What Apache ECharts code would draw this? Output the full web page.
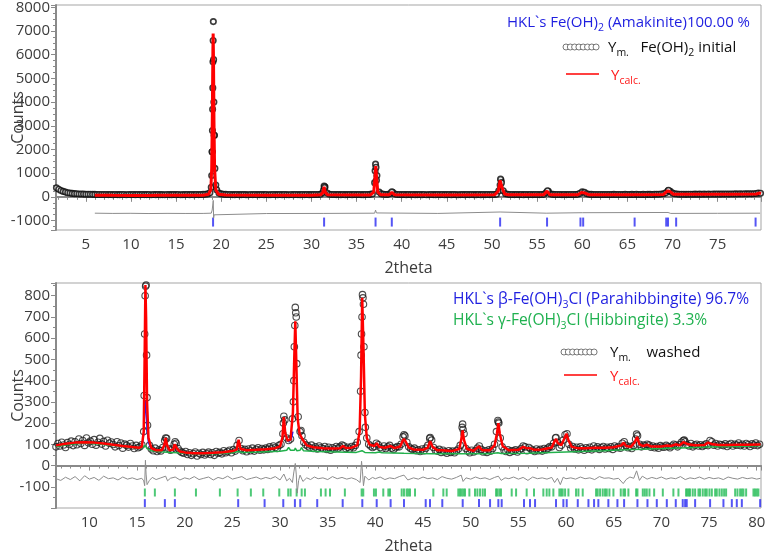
<!DOCTYPE html>
<html>
<head>
<meta charset="utf-8">
<script src="https://cdn.jsdelivr.net/npm/echarts@6/dist/echarts.min.js"></script>
<style>
  html, body { margin: 0; padding: 0; background: #fff; }
  #chart { width: 767px; height: 554px; }
</style>
</head>
<body>
<div id="chart"></div>
<script>
// ---- top panel: Fe(OH)2 initial ----
// measured counts on a regular 2theta grid
const topObsStart = 1.75
const topObsStep = 0.25
const topObsY = [
  380, 320, 270, 230, 200, 175, 160, 145, 135, 128, 122, 118, 115, 112, 110, 108, 106, 104, 102, 100,
  98, 96, 100, 94, 97, 92, 99, 95, 93, 98, 96, 91, 97, 94, 99, 93, 96, 92, 98, 95,
  94, 97, 91, 96, 93, 98, 92, 95, 90, 97, 94, 92, 96, 93, 98, 91, 95, 94, 97, 92,
  96, 93, 98, 95, 100, 104, 110, 125, 170, 1900, 2600, 300, 160, 125, 110, 104, 100, 97, 95, 93,
  96, 92, 95, 98, 93, 91, 97, 94, 96, 92, 95, 98, 93, 96, 91, 94, 97, 95, 92, 96,
  93, 97, 94, 91, 96, 93, 98, 95, 92, 96, 94, 97, 93, 95, 98, 96, 100, 110, 180, 420,
  160, 110, 100, 96, 94, 98, 93, 96, 92, 95, 97, 93, 96, 94, 98, 95, 93, 97, 100, 106,
  125, 600, 900, 200, 125, 108, 102, 105, 140, 190, 120, 102, 97, 95, 98, 93, 96, 94, 97, 92,
  95, 98, 93, 96, 91, 94, 97, 95, 92, 96, 94, 98, 93, 95, 97, 92, 96, 94, 91, 95,
  97, 93, 96, 94, 98, 95, 92, 96, 93, 97, 95, 98, 94, 97, 100, 110, 250, 700, 260, 130,
  108, 100, 98, 95, 97, 94, 96, 93, 98, 95, 97, 94, 96, 99, 95, 98, 105, 180, 230, 120,
  104, 98, 96, 99, 95, 97, 94, 98, 96, 99, 102, 110, 150, 210, 190, 130, 110, 104, 100, 98,
  100, 97, 102, 99, 96, 101, 98, 103, 100, 97, 102, 99, 104, 101, 98, 103, 100, 105, 102, 99,
  104, 101, 106, 103, 100, 105, 108, 112, 118, 130, 170, 260, 230, 160, 130, 118, 112, 108, 110, 106,
  109, 112, 108, 114, 110, 113, 109, 115, 111, 116, 112, 118, 114, 117, 113, 119, 115, 120, 116, 122,
  118, 124, 120, 126, 122, 128, 124, 130, 126, 132, 140, 160, 150
]
// extra measured points on the steep peak flanks
const topObsPeaks = [
  [18.9, 400], [18.95, 900], [19.0, 1900], [19.03, 2800], [19.05, 3700], [19.07, 4600],
  [19.09, 5700], [19.11, 6600], [19.13, 7400], [19.16, 5800], [19.19, 4000], [19.22, 2600],
  [19.3, 1200], [19.4, 500], [31.35, 300], [31.4, 460], [31.45, 400],
  [37.05, 1100], [37.1, 1380], [37.15, 1250], [37.2, 700], [38.9, 210],
  [50.9, 500], [50.95, 750], [51.05, 600], [56.15, 260], [69.55, 280]
]
const topCalc = [
  [6.0, 65], [8, 62], [10, 60], [12, 60], [13, 62], [16, 62], [18, 70], [18.6, 110], [18.85, 300],
  [18.95, 1200], [19.02, 3500], [19.08, 6200], [19.11, 6900], [19.15, 5800], [19.2, 3200],
  [19.27, 1200], [19.4, 300], [19.7, 110], [20.5, 75], [25, 65], [30, 68], [31.0, 85],
  [31.25, 180], [31.4, 420], [31.55, 180], [31.8, 85], [36.5, 75], [36.9, 200], [37.05, 900],
  [37.12, 1300], [37.2, 900], [37.35, 200], [37.7, 85], [38.6, 85], [38.9, 190], [39.2, 90],
  [45, 75], [50.3, 85], [50.7, 250], [50.9, 700], [51.1, 400], [51.4, 120], [51.8, 85],
  [55.7, 85], [56.1, 240], [56.4, 90], [59.5, 90], [59.9, 180], [60.1, 200], [60.3, 160],
  [60.7, 90], [65, 90], [69.0, 100], [69.45, 250], [69.7, 230], [70.1, 110], [75, 105],
  [76.5, 105], [79.3, 120], [79.6, 160], [79.8, 140]
]
const topDiff = [
  [6.0, -690], [8, -700], [10, -695], [12, -705], [14, -698], [16, -702], [18, -700],
  [18.9, -690], [19.0, -560], [19.08, -300], [19.12, -150], [19.16, -900], [19.22, -760],
  [19.4, -700], [25, -705], [31.3, -700], [31.4, -620], [31.5, -700], [37.0, -690],
  [37.1, -560], [37.2, -680], [37.3, -710], [44, -700], [50.9, -640], [51.05, -700],
  [56, -690], [60, -670], [60.2, -700], [69.5, -660], [69.8, -700], [75, -695], [79.7, -690]
]
const topHkl = [19.1, 31.4, 37.1, 38.9, 50.9, 56.1, 59.8, 60.1, 65.8, 69.3, 69.5, 70.4, 79.2]

// ---- bottom panel: washed ----
const botObsStart = 6.5
const botObsStep = 0.2
const botObsY = [
  88, 104, 92, 110, 97, 85, 108, 99, 115, 94,
  112, 98, 125, 104, 118, 95, 130, 107, 115, 100,
  122, 96, 110, 128, 101, 114, 92, 119, 105, 111,
  99, 88, 112, 94, 106, 82, 101, 95, 87, 104,
  92, 80, 95, 84, 88, 98, 160, 845, 190, 95,
  78, 70, 82, 66, 74, 69, 85, 118, 128, 80,
  72, 78, 100, 105, 80, 68, 62, 58, 66, 52,
  60, 48, 56, 64, 45, 58, 52, 62, 50, 57,
  63, 52, 60, 48, 66, 58, 62, 55, 70, 60,
  66, 72, 60, 75, 68, 95, 118, 80, 70, 76,
  65, 78, 70, 82, 68, 76, 84, 72, 80, 74,
  82, 76, 88, 79, 92, 85, 80, 95, 100, 150,
  215, 130, 118, 125, 220, 560, 700, 230, 160, 140,
  110, 98, 92, 85, 96, 80, 88, 78, 92, 84,
  80, 90, 76, 86, 72, 84, 78, 90, 82, 88,
  96, 92, 80, 86, 78, 90, 84, 95, 110, 160,
  520, 790, 250, 130, 100, 92, 85, 90, 105, 98,
  85, 78, 92, 80, 88, 95, 82, 76, 84, 90,
  88, 100, 135, 140, 110, 88, 80, 76, 82, 70,
  74, 66, 78, 70, 82, 95, 128, 120, 85, 72,
  68, 76, 62, 72, 65, 58, 70, 62, 68, 60,
  70, 78, 95, 180, 150, 80, 68, 60, 72, 64,
  70, 82, 92, 76, 64, 70, 62, 74, 68, 80,
  100, 160, 205, 130, 88, 72, 66, 74, 62, 70,
  68, 74, 64, 72, 80, 92, 88, 70, 85, 78,
  72, 66, 78, 70, 76, 68, 80, 74, 82, 90,
  88, 105, 130, 110, 85, 96, 120, 145, 150, 100,
  82, 90, 78, 86, 74, 88, 80, 72, 84, 78,
  86, 74, 92, 80, 88, 76, 84, 90, 78, 86,
  80, 88, 76, 92, 84, 90, 82, 105, 112, 95,
  84, 90, 80, 95, 125, 140, 100, 88, 96, 92,
  100, 96, 86, 92, 84, 90, 82, 94, 88, 86,
  95, 90, 84, 92, 100, 96, 88, 98, 110, 118,
  112, 98, 92, 104, 88, 96, 100, 92, 98, 90,
  96, 102, 94, 118, 112, 96, 104, 92, 100, 98,
  94, 102, 90, 98, 104, 92, 100, 96, 106, 94,
  100, 92, 104, 98, 90, 102, 96, 106, 94, 100
]
const botObsPeaks = [
  [15.75, 330], [15.8, 620], [15.85, 800], [15.95, 850], [16.0, 520], [16.05, 320],
  [18.0, 130], [19.0, 112], [30.35, 200], [30.4, 232], [31.4, 300], [31.45, 400],
  [31.55, 660], [31.6, 745], [31.65, 720], [31.75, 480], [32.2, 165],
  [38.45, 350], [38.55, 620], [38.6, 700], [38.65, 805], [38.75, 760], [38.8, 560], [38.95, 180],
  [43.0, 145], [45.75, 132], [49.15, 195], [49.2, 170], [52.85, 212], [52.95, 200],
  [58.95, 132], [67.4, 148], [72.4, 120]
]
const botCalc = [
  [6.5, 95], [7.5, 103], [8.5, 108], [9.5, 110], [10.5, 108], [11.5, 104], [12.5, 98],
  [13.5, 92], [14.5, 87], [15.2, 84], [15.5, 88], [15.7, 160], [15.8, 520], [15.88, 850],
  [15.95, 700], [16.05, 300], [16.2, 130], [16.5, 82], [17, 72], [17.6, 72], [17.85, 95],
  [18.0, 130], [18.15, 95], [18.4, 72], [18.8, 75], [18.95, 100], [19.05, 105], [19.2, 80],
  [19.5, 66], [20, 62], [21, 58], [22, 58], [23, 60], [24, 63], [25, 68], [25.45, 75],
  [25.65, 122], [25.85, 78], [26.5, 72], [27.5, 74], [28.5, 77], [29.5, 82], [30.0, 90],
  [30.25, 130], [30.4, 228], [30.55, 150], [30.8, 118], [31.1, 122], [31.35, 250],
  [31.5, 520], [31.6, 680], [31.7, 500], [31.85, 220], [32.05, 150], [32.2, 155],
  [32.4, 120], [32.8, 95], [33.5, 86], [34.5, 82], [35.5, 80], [36.3, 82], [36.6, 92],
  [36.9, 83], [37.5, 84], [38.1, 95], [38.35, 160], [38.5, 420], [38.62, 790], [38.75, 560],
  [38.9, 240], [39.1, 130], [39.4, 98], [39.9, 92], [40.15, 105], [40.4, 88], [41, 84],
  [41.6, 92], [42, 82], [42.6, 90], [42.85, 115], [43.0, 125], [43.15, 115], [43.5, 85],
  [44, 76], [45, 74], [45.5, 85], [45.75, 115], [46.0, 88], [46.5, 72], [47, 72], [48, 68],
  [48.8, 78], [49.0, 120], [49.15, 165], [49.3, 120], [49.6, 78], [50.3, 70], [50.85, 90],
  [51.2, 72], [52, 72], [52.5, 95], [52.75, 150], [52.9, 200], [53.05, 150], [53.35, 92],
  [54, 72], [55, 74], [55.5, 88], [55.65, 95], [55.85, 82], [56.2, 82], [56.6, 75],
  [57.5, 76], [58.5, 85], [58.8, 115], [58.95, 125], [59.15, 105], [59.5, 96], [59.85, 130],
  [60.05, 150], [60.25, 120], [60.6, 88], [61.2, 82], [61.4, 86], [62, 82], [63, 84],
  [64, 84], [65, 86], [65.8, 95], [66.05, 108], [66.3, 92], [66.8, 88], [67.2, 110],
  [67.45, 135], [67.7, 100], [68.1, 92], [68.5, 98], [68.9, 90], [70, 90], [70.6, 94],
  [71, 92], [71.5, 100], [71.9, 95], [72.3, 110], [72.5, 118], [72.8, 100], [73.5, 96],
  [74.5, 97], [74.9, 108], [75.1, 115], [75.4, 100], [76, 97], [77, 97], [78, 98], [79, 98],
  [80.4, 99]
]
// beta phase contribution where it shows from under the total fit
const botBetaSeg1 = [
  [15.5, 86], [15.7, 150], [15.8, 260], [15.88, 305], [15.95, 250], [16.05, 170],
  [16.2, 110], [16.4, 85], [16.7, 76]
]
const botBetaSeg2 = [[30.9, 112], [31.05, 118], [31.2, 128], [31.35, 160]]
// gamma phase + background
const botGamma = [
  [6.5, 90], [8, 100], [9.5, 106], [11, 102], [12.5, 95], [14, 88], [15.2, 82], [15.6, 85],
  [15.85, 95], [16.05, 80], [16.5, 70], [17.5, 65], [18.5, 62], [19.5, 60], [21, 56],
  [23, 56], [25, 60], [25.6, 66], [26, 62], [28, 64], [30, 67], [30.7, 72], [30.9, 85],
  [31.1, 72], [31.5, 72], [31.6, 82], [31.75, 70], [32.1, 72], [32.25, 85], [32.45, 70],
  [34, 66], [36, 64], [38, 62], [38.6, 70], [38.9, 62], [40, 60], [40.4, 64], [40.7, 60],
  [43, 58], [46, 56], [49, 55], [49.15, 62], [49.4, 55], [52, 56], [52.85, 60], [53.2, 57],
  [56, 58], [60, 64], [64, 70], [66, 74], [68, 77], [70, 80], [72, 83], [74, 86], [76, 88],
  [78, 90], [80.4, 93]
]
const botDiff = [
  [6.5, -62], [7, -70], [7.5, -55], [8, -66], [8.5, -52], [9, -72], [9.5, -48], [10, -64],
  [10.5, -56], [11, -70], [11.5, -50], [12, -62], [12.5, -58], [13, -68], [13.5, -54],
  [14, -64], [14.5, -58], [15, -66], [15.5, -60], [15.7, -72], [15.8, -95], [15.88, 25],
  [15.95, -40], [16.05, -90], [16.3, -70], [16.6, -56], [17, -66], [17.5, -58], [18, -50],
  [18.2, -72], [18.5, -60], [19, -54], [19.5, -68], [20, -58], [20.5, -64], [21, -52],
  [21.5, -66], [22, -60], [22.5, -54], [23, -68], [23.5, -56], [24, -62], [24.5, -50],
  [25, -64], [25.5, -58], [26, -52], [26.5, -66], [27, -60], [27.5, -54], [28, -64],
  [28.5, -56], [29, -62], [29.5, -52], [30, -68], [30.4, -40], [30.7, -72], [31, -60],
  [31.3, -80], [31.45, -30], [31.6, 10], [31.7, -40], [31.8, -130], [31.95, -70],
  [32.1, -45], [32.4, -75], [32.8, -58], [33.2, -66], [33.6, -54], [34, -62], [34.5, -58],
  [35, -66], [35.5, -52], [36, -62], [36.5, -56], [37, -64], [37.5, -58], [38, -66],
  [38.4, -80], [38.55, 20], [38.65, -30], [38.75, -95], [38.9, -50], [39.3, -68],
  [39.7, -56], [40, -62], [40.5, -54], [41, -66], [41.5, -58], [42, -62], [42.5, -52],
  [43, -45], [43.4, -68], [44, -58], [44.5, -64], [45, -54], [45.5, -62], [46, -58],
  [46.5, -66], [47, -52], [47.5, -60], [48, -64], [48.5, -56], [49, -45], [49.2, -75],
  [49.5, -58], [50, -64], [50.5, -54], [51, -62], [51.5, -58], [52, -66], [52.5, -56],
  [52.9, -50], [53.2, -70], [53.6, -58], [54, -62], [54.5, -54], [55, -64], [55.5, -56],
  [56, -70], [56.5, -54], [57, -62], [57.5, -58], [58, -64], [58.5, -56], [58.8, -80],
  [59.1, -60], [59.4, -90], [59.7, -55], [60, -62], [60.5, -58], [61, -64], [61.5, -54],
  [62, -62], [62.5, -58], [63, -66], [63.5, -52], [64, -60], [64.5, -58], [65, -64],
  [65.5, -60], [66, -85], [66.3, -66], [66.7, -54], [67.1, -60], [67.4, -25], [67.7, -70],
  [68, -50], [68.5, -64], [69, -56], [69.5, -62], [70, -54], [70.5, -64], [71, -58],
  [71.5, -62], [72, -52], [72.5, -66], [73, -58], [73.5, -62], [74, -54], [74.5, -64],
  [75, -56], [75.5, -62], [76, -58], [76.5, -66], [77, -54], [77.5, -60], [78, -64],
  [78.5, -56], [79, -62], [79.5, -58], [80, -64], [80.4, -60]
]
const botHklGamma = [
  15.82, 16.87, 18.97, 21.18, 23.69, 25.55, 26.94, 28.24, 29.92, 30.86, 31.11, 31.74, 32.27,
  32.61, 34.29, 34.78, 35.24, 36.8, 38.56, 38.73, 39.85, 40.06, 40.83, 41.36, 41.53, 42.76,
  43.0, 43.28, 43.45, 43.63, 44.16, 46.08, 47.13, 47.48, 48.70, 48.88, 49.05, 49.23, 49.40,
  49.86, 50.45, 50.70, 50.98, 51.26, 51.50, 52.66, 52.80, 53.01, 53.18, 54.30, 54.76, 55.87,
  56.64, 57.62, 57.97, 58.25, 58.67, 59.30, 59.48, 59.65, 59.90, 60.25, 61.05, 61.30, 61.75,
  63.15, 63.32, 63.57, 63.85, 64.09, 64.27, 64.55, 64.97, 65.74, 66.02, 66.19, 66.54, 67.35,
  67.49, 68.05, 68.26, 68.47, 68.75, 69.24, 70.15, 71.26, 71.79, 72.59, 72.73, 72.87, 73.01,
  73.29, 73.54, 73.89, 74.06, 74.34, 74.59, 74.76, 75.04, 75.29, 75.64, 75.81, 76.09, 76.34,
  76.58, 76.79, 77.74, 77.98, 78.26, 78.44, 78.61, 78.89, 79.66, 79.83, 80.01, 80.18
]
const botHklBeta = [
  15.82, 17.92, 18.97, 25.61, 28.38, 30.34, 31.56, 32.12, 33.9, 36.57, 38.63, 40.14, 41.6,
  43.0, 45.28, 45.73, 47.02, 49.16, 50.87, 52.03, 52.9, 53.25, 55.59, 56.22, 56.75, 58.95,
  59.72, 60.07, 61.23, 62.35, 62.94, 63.39, 64.44, 65.39, 66.09, 67.49, 68.54, 69.52, 70.57,
  71.51, 72.24, 72.49, 72.66, 73.54, 75.11, 76.51, 77.39, 77.91, 78.44, 80.36
]

// rows where the reflection markers sit
const topHklLevel = -1065
const gammaLevel = -127
const betaLevel = -177

const gridPairs = (start, step, ys) => ys.map((y, i) => [+(start + i * step).toFixed(2), y])

const axisGray = '#8a8a8a'
const labelGray = '#3c3c3c'
const font = 'Open Sans'

function xAxis(gridIndex, min, max, splitNumber) {
  return {
    type: 'value', gridIndex, min, max, splitNumber,
    name: '2theta', nameLocation: 'middle', nameGap: 30, nameMoveOverlap: false,
    nameTextStyle: { fontSize: 16, color: labelGray, fontFamily: font },
    axisLine: { lineStyle: { color: axisGray, width: 2 } },
    axisTick: { length: 5, lineStyle: { color: axisGray } },
    minorTick: { show: true, splitNumber: 5, length: 3, lineStyle: { color: axisGray } },
    axisLabel: { fontSize: 15, color: labelGray, fontFamily: font, margin: 7, showMinLabel: false, showMaxLabel: false },
    splitLine: { show: false }
  }
}
function yAxis(gridIndex, min, max, splitNumber, minorSplit) {
  return {
    type: 'value', gridIndex, min, max, splitNumber,
    name: 'Counts', nameLocation: 'middle', nameGap: 30, nameMoveOverlap: false,
    nameTextStyle: { fontSize: 16, color: labelGray, fontFamily: font },
    axisLine: { show: true, lineStyle: { color: axisGray, width: 2 } },
    axisTick: { show: true, length: 5, lineStyle: { color: axisGray } },
    minorTick: { show: true, splitNumber: minorSplit, length: 3, lineStyle: { color: axisGray } },
    axisLabel: {
      fontSize: 15, color: labelGray, fontFamily: font, margin: 6,
      showMinLabel: false, showMaxLabel: false, formatter: v => String(v)
    },
    splitLine: { show: false }
  }
}

const sub = { fontSize: 10.5, verticalAlign: 'bottom', fontFamily: font }
function label(x, y, text, color, align, size) {
  return {
    type: 'text', x, y, z: 100,
    style: {
      text, fill: color, fontSize: size || 15, fontFamily: font, lineHeight: 22,
      align: align || 'left', verticalAlign: 'middle',
      rich: { s: Object.assign({ fill: color }, sub) }
    }
  }
}
function circlesIcon(x0, y) {
  const kids = []
  for (let i = 0; i < 8; i++) {
    kids.push({ type: 'circle', shape: { cx: x0 + i * 4.3, cy: y, r: 3 }, style: { fill: '#fff', stroke: '#555', lineWidth: 0.8 } })
  }
  return { type: 'group', children: kids, z: 100 }
}
function redLine(x0, x1, y) {
  return { type: 'line', shape: { x1: x0, y1: y, x2: x1, y2: y }, style: { stroke: '#ff0000', lineWidth: 1.5 }, z: 100 }
}

const chart = echarts.init(document.getElementById('chart'))
chart.setOption({
  animation: false,
  textStyle: { fontFamily: font },
  grid: [
    { left: 56, right: 6, top: 5, height: 225, show: true, borderColor: '#a5a5a5', borderWidth: 1, outerBoundsMode: 'none', containLabel: false },
    { left: 56, right: 6, top: 283, height: 225, show: true, borderColor: '#a5a5a5', borderWidth: 1, outerBoundsMode: 'none', containLabel: false }
  ],
  xAxis: [xAxis(0, 1.7, 79.8, 16), xAxis(1, 6.5, 80.45, 15)],
  yAxis: [yAxis(0, -1400, 8100, 9, 4), yAxis(1, -200, 860, 10, 2)],
  series: [
    {
      type: 'scatter', xAxisIndex: 0, yAxisIndex: 0,
      data: gridPairs(topObsStart, topObsStep, topObsY).concat(topObsPeaks),
      symbol: 'circle', symbolSize: 5.5,
      itemStyle: { color: '#fff', borderColor: '#0a0a0a', borderWidth: 1.6 }
    },
    {
      type: 'line', xAxisIndex: 0, yAxisIndex: 0, data: topCalc, showSymbol: false,
      lineStyle: { color: '#ff0000', width: 3 }
    },
    {
      type: 'line', xAxisIndex: 0, yAxisIndex: 0, data: topDiff, showSymbol: false,
      lineStyle: { color: '#8c8c8c', width: 1 }
    },
    {
      type: 'scatter', xAxisIndex: 0, yAxisIndex: 0,
      data: topHkl.map(x => [x, topHklLevel]),
      symbol: 'rect', symbolSize: [2, 9], itemStyle: { color: '#2b2bf2' }
    },
    {
      type: 'scatter', xAxisIndex: 1, yAxisIndex: 1,
      data: gridPairs(botObsStart, botObsStep, botObsY).concat(botObsPeaks),
      symbol: 'circle', symbolSize: 6.5,
      itemStyle: { color: 'rgba(255,255,255,0)', borderColor: '#1e1e1e', borderWidth: 1.1 }
    },
    {
      type: 'line', xAxisIndex: 1, yAxisIndex: 1, data: botGamma, showSymbol: false,
      lineStyle: { color: '#22b14c', width: 1.5 }
    },
    {
      type: 'line', xAxisIndex: 1, yAxisIndex: 1, data: botBetaSeg1, showSymbol: false,
      lineStyle: { color: '#1a1aff', width: 1.5 }
    },
    {
      type: 'line', xAxisIndex: 1, yAxisIndex: 1, data: botBetaSeg2, showSymbol: false,
      lineStyle: { color: '#1a1aff', width: 1.5 }
    },
    {
      type: 'line', xAxisIndex: 1, yAxisIndex: 1, data: botCalc, showSymbol: false,
      lineStyle: { color: '#ff0000', width: 2.5 }
    },
    {
      type: 'line', xAxisIndex: 1, yAxisIndex: 1, data: botDiff, showSymbol: false,
      lineStyle: { color: '#8c8c8c', width: 1 }
    },
    {
      type: 'scatter', xAxisIndex: 1, yAxisIndex: 1,
      data: botHklGamma.map(x => [x, gammaLevel]),
      symbol: 'rect', symbolSize: [2, 8], itemStyle: { color: '#22bb55' }
    },
    {
      type: 'scatter', xAxisIndex: 1, yAxisIndex: 1,
      data: botHklBeta.map(x => [x, betaLevel]),
      symbol: 'rect', symbolSize: [2, 8], itemStyle: { color: '#2b2bf2' }
    }
  ],
  graphic: [
    label(750, 23, 'HKL`s Fe(OH){s|2} (Amakinite)100.00 %', '#1f1fe0', 'right'),
    circlesIcon(566, 47),
    label(608, 48, 'Y{s|m.}   Fe(OH){s|2} initial', '#111', 'left'),
    redLine(566, 599, 74),
    label(611, 76, 'Y{s|calc.}', '#ff1a1a', 'left'),
    label(453, 300, 'HKL`s β-Fe(OH){s|3}Cl (Parahibbingite) 96.7%', '#1f1fe0', 'left', 15.6),
    label(453, 321, 'HKL`s γ-Fe(OH){s|3}Cl (Hibbingite) 3.3%', '#1fb14f', 'left', 15.6),
    circlesIcon(564, 352),
    label(610, 353, 'Y{s|m.}    washed', '#111', 'left'),
    redLine(564, 597, 375),
    label(610, 377, 'Y{s|calc.}', '#ff1a1a', 'left')
  ]
})
</script>
</body>
</html>
